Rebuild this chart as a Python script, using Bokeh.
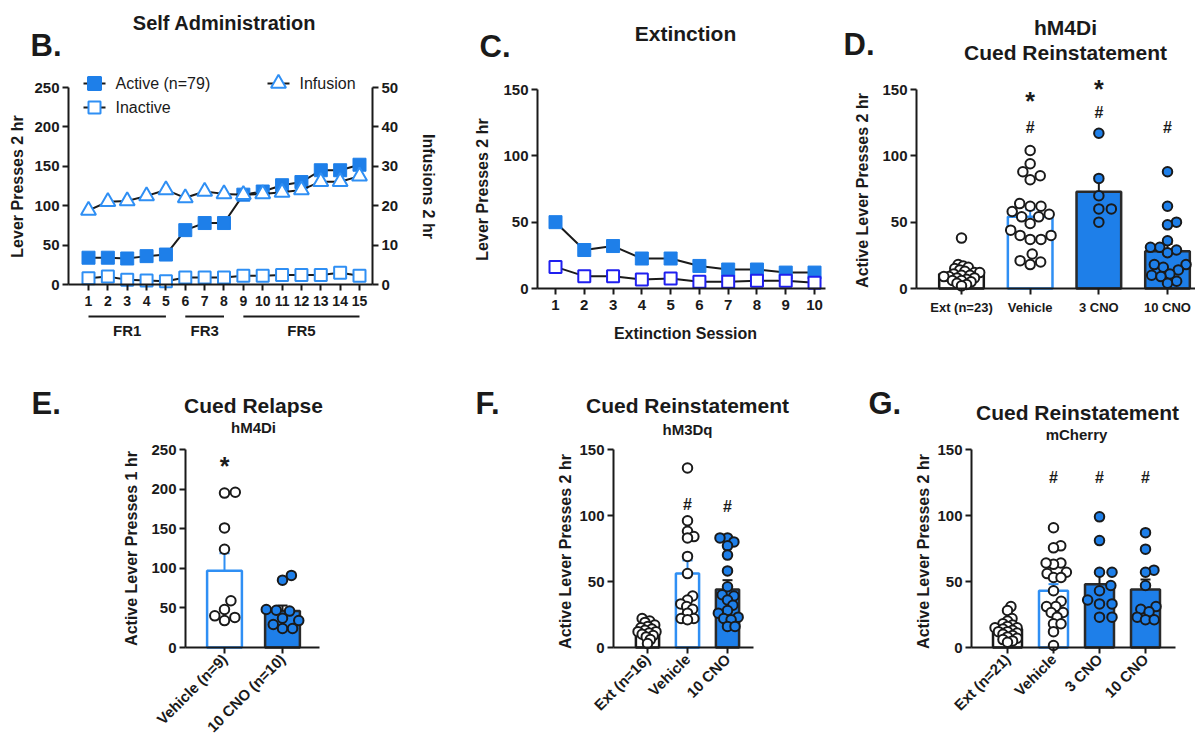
import math
from bokeh.plotting import figure
from bokeh.layouts import row, column
from bokeh.models import Range1d, LinearAxis, FixedTicker, Label
from bokeh.embed import file_html
from bokeh.resources import INLINE

FONT = "Liberation Sans"
BLUE = "#1e7fe9"
LBLUE = "#2f8ff4"
DBLUE = "#1f1ff0"
INK = "#1a1a1a"

# ---------------- B: Self Administration ----------------
sa_sessions = [1, 2, 3, 4, 5, 6, 7, 8, 9, 10, 11, 12, 13, 14, 15]
sa_active = [34, 34, 33, 36, 38, 69, 78, 78, 114, 118, 126, 130, 145, 145, 152]
sa_inactive = [8, 10, 6, 5, 4, 9, 9, 9, 11, 11, 12, 12, 12, 15, 11]
sa_infusion = [18.8, 21.0, 21.2, 22.5, 24.0, 22.0, 23.6, 23.0, 22.8, 23.0, 23.4, 24.0, 26.1, 26.1, 27.5]
sa_series_names = ["Active (n=79)", "Inactive", "Infusion"]
sa_phase_names = ["FR1", "FR3", "FR5"]
sa_phase_first = [1, 6, 9]
sa_phase_last = [5, 8, 15]
sa_left_ticks = [0, 50, 100, 150, 200, 250]
sa_right_ticks = [0, 10, 20, 30, 40, 50]

# ---------------- C: Extinction ----------------
ext_sessions = [1, 2, 3, 4, 5, 6, 7, 8, 9, 10]
ext_active = [50, 29, 32, 22.6, 22.6, 17, 14.3, 14.3, 12, 12]
ext_inactive = [16.3, 9.3, 9.3, 6.8, 7.5, 5, 5, 5.8, 5.8, 4.3]
ext_ticks = [0, 50, 100, 150]

# ---------------- D: hM4Di Cued Reinstatement ----------------
d_groups = ["Ext (n=23)", "Vehicle", "3 CNO", "10 CNO"]
d_kinds = ["ext", "veh", "cno", "cno"]
d_means = [11, 54, 73, 28]
d_sems = [1.8, 5.5, 11, 5.5]
d_ext = [38, 18, 17, 16, 15, 14, 13, 12, 12, 11, 10, 10, 9, 9, 8, 8, 7, 6, 6, 5, 4, 3, 2]
d_veh = [104, 94, 88, 85, 82, 64, 62, 62, 58, 56, 54, 54, 49, 44, 40, 40, 37, 37, 26, 21, 20, 18]
d_3cno = [117, 83, 70, 60, 60, 50]
d_10cno = [88, 62, 50, 48, 36, 31, 31, 29, 27, 18, 18, 16, 14, 11, 10, 9, 5.5, 4]
d_sig_text = ["*", "#", "*", "#", "#"]
d_sig_group = [2, 2, 3, 3, 4]
d_sig_y = [145, 121, 154.5, 133, 121]
d_ticks = [0, 50, 100, 150]

# ---------------- E: Cued Relapse hM4Di ----------------
e_groups = ["Vehicle (n=9)", "10 CNO (n=10)"]
e_kinds = ["veh", "cno"]
e_means = [97, 46]
e_sems = [22, 7]
e_veh = [196, 195, 151, 124, 59, 48, 40, 38, 34]
e_10cno = [91, 85, 48, 47, 46, 37, 34, 29, 24, 24]
e_sig_text = ["*"]
e_sig_group = [1]
e_sig_y = [235]
e_ticks = [0, 50, 100, 150, 200, 250]

# ---------------- F: Cued Reinstatement hM3Dq ----------------
f_groups = ["Ext (n=16)", "Vehicle", "10 CNO"]
f_kinds = ["ext", "veh", "cno"]
f_means = [12, 56, 44]
f_sems = [1.5, 10, 7]
f_ext = [22, 20, 19, 17, 16, 15, 14, 13, 12, 12, 11, 10, 9, 8, 6, 3]
f_veh = [136, 96, 88, 84, 83, 69, 56, 39, 36, 33, 31, 29, 26, 22, 22, 21]
f_10cno = [83, 83, 80, 77, 70, 58, 46, 40, 39, 36, 32, 28, 26, 23, 22, 21, 16, 16]
f_sig_text = ["#", "#"]
f_sig_group = [2, 3]
f_sig_y = [108, 106.5]
f_ticks = [0, 50, 100, 150]

# ---------------- G: Cued Reinstatement mCherry ----------------
g_groups = ["Ext (n=21)", "Vehicle", "3 CNO", "10 CNO"]
g_kinds = ["ext", "veh", "cno", "cno"]
g_means = [14, 43, 48, 44]
g_sems = [1.5, 5, 8, 7.5]
g_ext = [31, 28, 22, 20, 18, 17, 16, 15, 15, 14, 13, 12, 12, 11, 10, 9, 8, 7, 6, 5, 4]
g_veh = [90.7, 77, 75.5, 64, 63, 64, 57, 56, 53, 53, 43, 35, 31, 31, 26.5, 26.5, 23, 18, 18, 12, 1.5]
g_3cno = [99, 81, 57, 57, 47, 43, 36, 33, 33, 23, 23]
g_10cno = [87, 74.5, 58.6, 57, 47, 31, 29, 27, 23, 21, 21]
g_sig_text = ["#", "#", "#"]
g_sig_group = [2, 3, 4]
g_sig_y = [129, 129, 129]
g_ticks = [0, 50, 100, 150]

STY = {
    "ext": dict(bar_fill="white", bar_line=INK, pt_fill="white", err=INK),
    "veh": dict(bar_fill="white", bar_line=LBLUE, pt_fill="white", err=LBLUE),
    "cno": dict(bar_fill=BLUE, bar_line="#2a2a2a", pt_fill=BLUE, err=INK),
}


class Panel:
    """A figure whose frame fills the whole figure; page pixels map linearly to data."""

    def __init__(self, X0, Y0, W, H, xa_px, xa_val, sx, y0_px, sy):
        self.X0, self.Y0, self.W, self.H = X0, Y0, W, H
        self.xa_px, self.xa_val, self.sx = xa_px, xa_val, sx
        self.y0_px, self.sy = y0_px, sy
        xr = (self.dx(X0), self.dx(X0 + W))
        yr = (self.dy(Y0 + H), self.dy(Y0))
        p = figure(width=W, height=H, x_range=Range1d(*xr), y_range=Range1d(*yr),
                   output_backend="svg", toolbar_location=None, min_border=0,
                   x_axis_location=None, y_axis_location=None)
        p.outline_line_color = None
        p.xgrid.visible = False
        p.ygrid.visible = False
        p.background_fill_color = "white"
        p.border_fill_color = "white"
        self.p = p

    def dx(self, px):
        return self.xa_val + (px - self.xa_px) / self.sx

    def dy(self, py):
        return (self.y0_px - py) / self.sy


def style_axis(ax, tick_size=15, tick_standoff=3):
    ax.axis_line_width = 2
    ax.axis_line_color = INK
    ax.major_tick_line_width = 2
    ax.major_tick_line_color = INK
    ax.major_tick_out = 6
    ax.major_tick_in = 0
    ax.minor_tick_line_color = None
    ax.major_label_text_font = FONT
    ax.major_label_text_font_style = "bold"
    ax.major_label_text_font_size = f"{tick_size}px"
    ax.major_label_text_color = INK
    ax.major_label_standoff = tick_standoff


def add_axes(P, left_px, right_px, ymax, yticks, xticks, x_tick_size=15, x_standoff=5,
             overrides=None, rotate=False):
    ya = LinearAxis(fixed_location=P.dx(left_px), bounds=(0, ymax), ticker=FixedTicker(ticks=yticks))
    style_axis(ya, tick_size=15, tick_standoff=3)
    P.p.add_layout(ya, "left")
    xa = LinearAxis(fixed_location=0, bounds=(P.dx(left_px), P.dx(right_px)),
                    ticker=FixedTicker(ticks=xticks))
    style_axis(xa, tick_size=x_tick_size, tick_standoff=x_standoff)
    if overrides:
        xa.major_label_overrides = overrides
    if rotate:
        xa.major_label_orientation = math.pi / 4
    P.p.add_layout(xa, "below")
    return xa, ya


def put(P, rx, ry, text, size, align="center", angle=0.0, style="bold"):
    """Text whose visual (cap) centre sits at page pixel (rx, ry)."""
    P.p.add_layout(Label(x=P.dx(rx), y=P.dy(ry), text=text, text_font=FONT,
                         text_font_size=f"{size}px", text_font_style=style,
                         text_align=align, text_baseline="middle", text_color=INK,
                         angle=angle, angle_units="rad"))


def _swarm(vals, px_y, d):
    placed = []
    out = [0.0] * len(vals)
    order = sorted(range(len(vals)), key=lambda i: vals[i])
    for i in order:
        y = vals[i] * px_y
        cands = [0.0]
        for xj, yj in placed:
            dy = abs(y - yj)
            if dy < d:
                dx = math.sqrt(d * d - dy * dy)
                cands.extend([xj + dx, xj - dx])
        cands.sort(key=lambda c: (round(abs(c), 6), -c))
        chosen = cands[0]
        for c in cands:
            if all((c - xj) ** 2 + (y - yj) ** 2 >= d * d - 1e-6 for xj, yj in placed):
                chosen = c
                break
        placed.append((chosen, y))
        out[i] = chosen
    return out


def swarm(vals, px_x, px_y, maxhalf, d0=12.5):
    d = d0
    while True:
        offs = _swarm(vals, px_y, d)
        if max(abs(o) for o in offs) <= maxhalf or d < 3:
            return [o / px_x for o in offs]
        d *= 0.93


def bar_panel(P, groups, kinds, means, sems, points, bar_w, sig_text, sig_group, sig_y):
    p = P.p
    xs = list(range(1, len(groups) + 1))
    p.vbar(x=xs, top=means, width=bar_w,
           fill_color=[STY[k]["bar_fill"] for k in kinds],
           line_color=[STY[k]["bar_line"] for k in kinds], line_width=2.5)
    tops = [m + s for m, s in zip(means, sems)]
    errc = [STY[k]["err"] for k in kinds]
    cw = 5.0 / P.sx
    p.segment(x0=xs, y0=means, x1=xs, y1=tops, line_color=errc, line_width=2)
    p.segment(x0=[x - cw for x in xs], y0=tops, x1=[x + cw for x in xs], y1=tops,
              line_color=errc, line_width=2)
    maxhalf = bar_w * P.sx / 2.0 * 0.95
    for x, k, vals in zip(xs, kinds, points):
        offs = swarm(vals, P.sx, P.sy, maxhalf)
        p.scatter(x=[x + o for o in offs], y=vals, marker="circle", size=9.5,
                  fill_color=STY[k]["pt_fill"], line_color=INK, line_width=2)
    for t, g, y in zip(sig_text, sig_group, sig_y):
        big = t == "*"
        p.add_layout(Label(x=g, y=y, text=t, text_font=FONT,
                           text_font_size="25px" if big else "16px",
                           text_font_style="bold", text_align="center",
                           text_baseline="middle", text_color=INK,
                           y_offset=-5 if big else 0))
    return xs


# Layout grid (page pixels)
COL_X = [0, 445, 840]
COL_W = [445, 395, 355]
ROW_Y = [0, 368]
ROW_H = [368, 367]

# ======================= Panel B =======================
B = Panel(COL_X[0], ROW_Y[0], COL_W[0], ROW_H[0], 88, 1, 19.357, 284, 197 / 250)
pB = B.p
pB.extra_y_ranges = {"inf": Range1d(B.dy(B.Y0 + B.H) / 5.0, B.dy(B.Y0) / 5.0)}
pB.line(sa_sessions, sa_active, line_color=INK, line_width=2)
pB.scatter(sa_sessions, sa_active, marker="square", size=13, fill_color=BLUE, line_color=BLUE)
pB.line(sa_sessions, sa_inactive, line_color=INK, line_width=2)
pB.scatter(sa_sessions, sa_inactive, marker="square", size=12, fill_color="white",
           line_color=LBLUE, line_width=2)
pB.line(sa_sessions, sa_infusion, line_color=INK, line_width=2, y_range_name="inf")
pB.scatter(sa_sessions, sa_infusion, marker="triangle", size=15, fill_color="white",
           line_color=LBLUE, line_width=2, y_range_name="inf")
add_axes(B, 68, 372, 250, sa_left_ticks, sa_sessions, x_tick_size=14, x_standoff=5)
rax = LinearAxis(y_range_name="inf", fixed_location=B.dx(372), bounds=(0, 50),
                 ticker=FixedTicker(ticks=sa_right_ticks))
style_axis(rax, tick_size=15, tick_standoff=3)
pB.add_layout(rax, "right")

# legend (sample line + marker + text)
leg_cx = [94, 94, 278]
leg_cy = [83, 107, 83]
leg_marker = ["square", "square", "triangle"]
leg_fill = [BLUE, "white", "white"]
leg_line = [BLUE, LBLUE, LBLUE]
leg_size = [13, 12, 15]
for name, cx, cy, mk, fc, lc, sz in zip(sa_series_names, leg_cx, leg_cy, leg_marker,
                                        leg_fill, leg_line, leg_size):
    pB.segment(x0=[B.dx(cx - 11)], y0=[B.dy(cy)], x1=[B.dx(cx + 11)], y1=[B.dy(cy)],
               line_color=INK, line_width=2)
    pB.scatter(x=[B.dx(cx)], y=[B.dy(cy)], marker=mk, size=sz, fill_color=fc, line_color=lc,
               line_width=2)
    put(B, cx + 21, cy, name, 16, align="left", style="normal")

y_fr = B.dy(316)
pB.segment(x0=sa_phase_first, y0=[y_fr] * 3, x1=sa_phase_last, y1=[y_fr] * 3,
           line_color=INK, line_width=2)
for name, a, b in zip(sa_phase_names, sa_phase_first, sa_phase_last):
    pB.add_layout(Label(x=(a + b) / 2.0, y=B.dy(330), text=name, text_font=FONT,
                        text_font_size="15px", text_font_style="bold", text_align="center",
                        text_baseline="middle", text_color=INK))
put(B, 30, 44.5, "B.", 31, align="left")
put(B, 224, 22, "Self Administration", 20)
put(B, 17, 186, "Lever Presses 2 hr", 16, angle=math.pi / 2)
put(B, 428, 186, "Infusions 2 hr", 16, angle=-math.pi / 2)

# ======================= Panel C =======================
C = Panel(COL_X[1], ROW_Y[0], COL_W[1], ROW_H[0], 555, 1, 28.78, 288, 199 / 150)
pC = C.p
pC.line(ext_sessions, ext_active, line_color=INK, line_width=2)
pC.scatter(ext_sessions, ext_active, marker="square", size=13, fill_color=BLUE, line_color=BLUE)
pC.line(ext_sessions, ext_inactive, line_color=INK, line_width=2)
pC.scatter(ext_sessions, ext_inactive, marker="square", size=12, fill_color="white",
           line_color=DBLUE, line_width=2)
add_axes(C, 537, 825, 150, ext_ticks, ext_sessions, x_tick_size=15, x_standoff=5)
put(C, 479, 45.5, "C.", 31, align="left")
put(C, 685, 33, "Extinction", 21)
put(C, 482, 189, "Lever Presses 2 hr", 16, angle=math.pi / 2)
put(C, 685, 333, "Extinction Session", 16)

# ======================= Panel D =======================
D = Panel(COL_X[2], ROW_Y[0], COL_W[2], ROW_H[0], 961, 1, 68.67, 288, 199 / 150)
xsD = bar_panel(D, d_groups, d_kinds, d_means, d_sems, [d_ext, d_veh, d_3cno, d_10cno], 0.65,
                d_sig_text, d_sig_group, d_sig_y)
add_axes(D, 916, 1199, 150, d_ticks, xsD, x_tick_size=13, x_standoff=5,
         overrides={x: g for x, g in zip(xsD, d_groups)})
put(D, 843, 43.5, "D.", 31, align="left")
put(D, 1065, 27, "hM4Di", 21)
put(D, 1065, 52, "Cued Reinstatement", 21)
put(D, 862, 190, "Active Lever Presses 2 hr", 16, angle=math.pi / 2)

# ======================= Panel E =======================
E = Panel(COL_X[0], ROW_Y[1], COL_W[0], ROW_H[1], 224, 1, 58.0, 647, 198 / 250)
xsE = bar_panel(E, e_groups, e_kinds, e_means, e_sems, [e_veh, e_10cno], 0.6,
                e_sig_text, e_sig_group, e_sig_y)
add_axes(E, 185, 319, 250, e_ticks, xsE, x_tick_size=15, x_standoff=3,
         overrides={x: g for x, g in zip(xsE, e_groups)}, rotate=True)
put(E, 31, 402.5, "E.", 31, align="left")
put(E, 253, 405, "Cued Relapse", 21)
put(E, 253, 427, "hM4Di", 15)
put(E, 131, 548, "Active Lever Presses 1 hr", 16, angle=math.pi / 2)

# ======================= Panel F =======================
F = Panel(COL_X[1], ROW_Y[1], COL_W[1], ROW_H[1], 647, 1, 40.0, 647, 198 / 150)
xsF = bar_panel(F, f_groups, f_kinds, f_means, f_sems, [f_ext, f_veh, f_10cno], 0.58,
                f_sig_text, f_sig_group, f_sig_y)
add_axes(F, 613, 753, 150, f_ticks, xsF, x_tick_size=15, x_standoff=3,
         overrides={x: g for x, g in zip(xsF, f_groups)}, rotate=True)
put(F, 475, 403, "F.", 31, align="left")
put(F, 687, 405, "Cued Reinstatement", 21)
put(F, 687, 428.5, "hM3Dq", 15)
put(F, 565, 551, "Active Lever Presses 2 hr", 16, angle=math.pi / 2)

# ======================= Panel G =======================
G = Panel(COL_X[2], ROW_Y[1], COL_W[2], ROW_H[1], 1007, 1, 46.0, 647, 198 / 150)
xsG = bar_panel(G, g_groups, g_kinds, g_means, g_sems, [g_ext, g_veh, g_3cno, g_10cno], 0.63,
                g_sig_text, g_sig_group, g_sig_y)
add_axes(G, 971, 1175, 150, g_ticks, xsG, x_tick_size=15, x_standoff=3,
         overrides={x: g for x, g in zip(xsG, g_groups)}, rotate=True)
put(G, 868, 402.5, "G.", 31, align="left")
put(G, 1077, 412, "Cued Reinstatement", 21)
put(G, 1076, 433.5, "mCherry", 15)
put(G, 923, 551, "Active Lever Presses 2 hr", 16, angle=math.pi / 2)

layout = column(row(B.p, C.p, D.p), row(E.p, F.p, G.p))
open("out.html", "w").write(file_html(layout, INLINE))
